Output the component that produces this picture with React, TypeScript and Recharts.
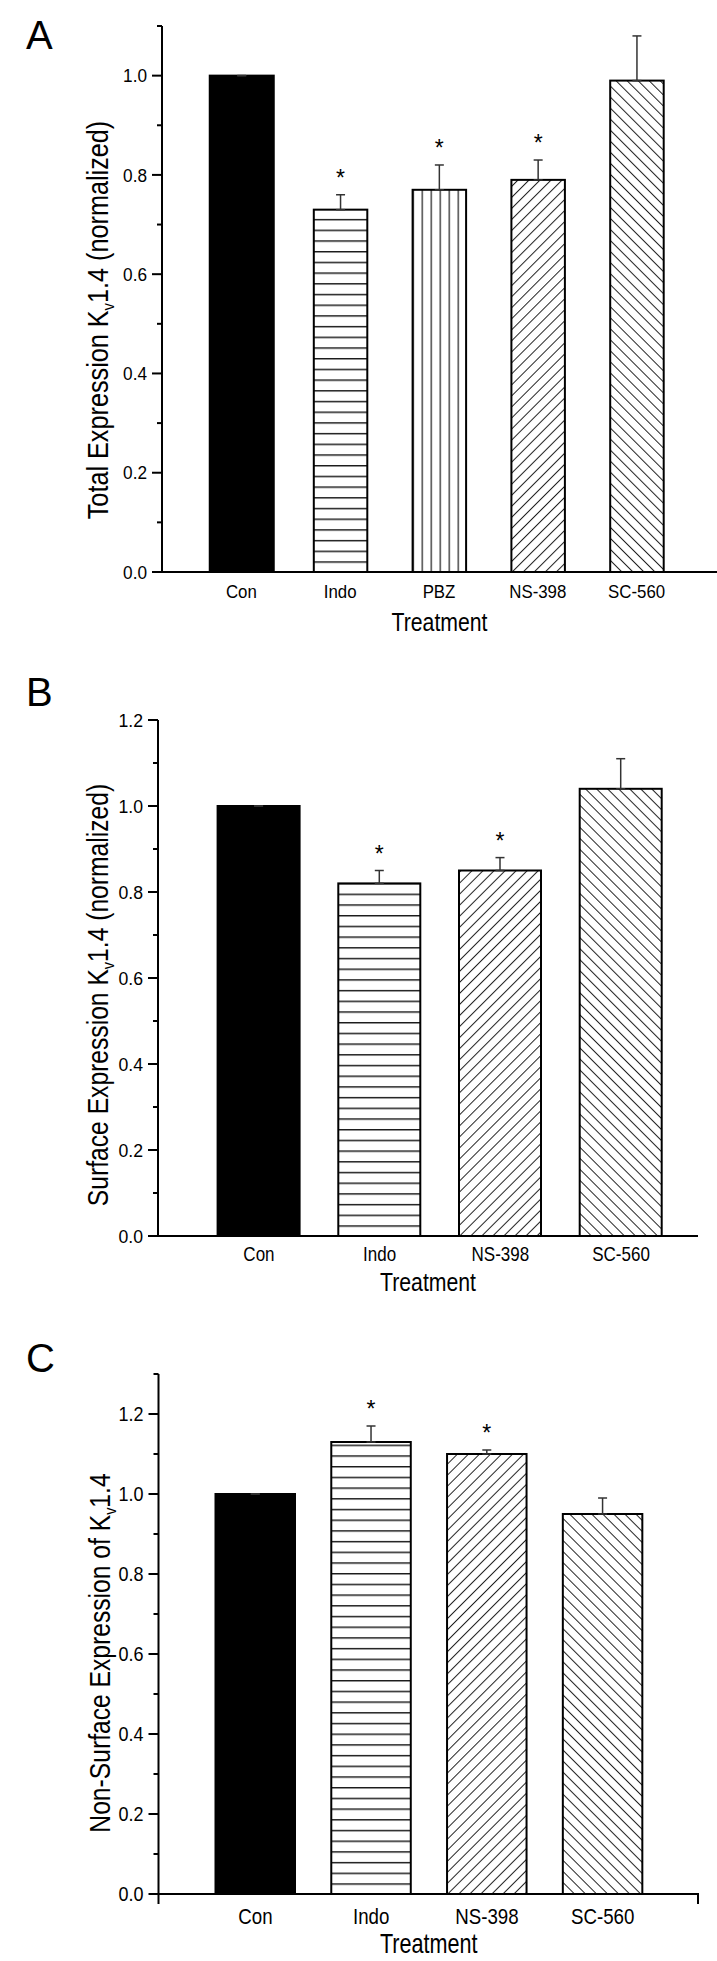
import React from 'react';
import { BarChart, Bar, XAxis, YAxis, ErrorBar } from 'recharts';

const FONT = '"Liberation Sans", Arial, Helvetica, sans-serif';

// Panel A - total expression
const catsA = ['Con', 'Indo', 'PBZ', 'NS-398', 'SC-560'];
const meanA = [1.0, 0.73, 0.77, 0.79, 0.99];
const semA = [0, 0.03, 0.05, 0.04, 0.09];
const starA = [false, true, true, true, false];
const ticksA = [0, 0.1, 0.2, 0.3, 0.4, 0.5, 0.6, 0.7, 0.8, 0.9, 1.0, 1.1];

// Panel B - surface expression
const catsB = ['Con', 'Indo', 'NS-398', 'SC-560'];
const meanB = [1.0, 0.82, 0.85, 1.04];
const semB = [0, 0.03, 0.03, 0.07];
const starB = [false, true, true, false];
const ticksB = [0, 0.1, 0.2, 0.3, 0.4, 0.5, 0.6, 0.7, 0.8, 0.9, 1.0, 1.1, 1.2];

// Panel C - non-surface expression
const catsC = ['Con', 'Indo', 'NS-398', 'SC-560'];
const meanC = [1.0, 1.13, 1.1, 0.95];
const semC = [0, 0.04, 0.01, 0.04];
const starC = [false, true, true, false];
const ticksC = [0, 0.1, 0.2, 0.3, 0.4, 0.5, 0.6, 0.7, 0.8, 0.9, 1.0, 1.1, 1.2, 1.3];

// fill style per treatment
const fillKind: Record<string, string> = {
  Con: 'solid',
  Indo: 'hlines',
  PBZ: 'vlines',
  'NS-398': 'fdiag',
  'SC-560': 'bdiag',
};

const buildRows = (cats: string[], mean: number[], sem: number[], star: boolean[]) =>
  cats.map((cat, i) => ({ cat, mean: mean[i], sem: sem[i], err: [0, sem[i]], star: star[i] }));

function PatternBar(props: any) {
  const { x, y, width, height, payload, index, pid, conWidth } = props;
  if (!height || height <= 0) return null;
  const kind = fillKind[payload.cat];
  const w = kind === 'solid' && conWidth ? conWidth : width;
  const bx = x + width / 2 - w / 2;
  const bottom = y + height;
  const id = `pat-${pid}-${index}`;
  let pattern: React.ReactNode = null;
  if (kind === 'hlines') {
    pattern = (
      <pattern id={id} patternUnits="userSpaceOnUse" x={bx} y={bottom} width={w} height={10.7}>
        <line x1={0} x2={w} y1={0.8} y2={0.8} stroke="#1a1a1a" strokeWidth={1.5} />
      </pattern>
    );
  } else if (kind === 'vlines') {
    pattern = (
      <pattern id={id} patternUnits="userSpaceOnUse" x={bx} y={0} width={9} height={10}>
        <line x1={0.6} x2={0.6} y1={0} y2={10} stroke="#1a1a1a" strokeWidth={1.2} />
      </pattern>
    );
  } else if (kind === 'fdiag' || kind === 'bdiag') {
    const rot = kind === 'fdiag' ? 45 : -45;
    pattern = (
      <pattern
        id={id}
        patternUnits="userSpaceOnUse"
        width={7.8}
        height={10}
        patternTransform={`translate(${bx},${bottom}) rotate(${rot})`}
      >
        <line x1={0.5} x2={0.5} y1={0} y2={10} stroke="#222" strokeWidth={1} />
      </pattern>
    );
  }
  const starY = y - (payload.sem / payload.mean) * height - 9;
  return (
    <g>
      {pattern && <defs>{pattern}</defs>}
      <rect
        x={bx}
        y={y}
        width={w}
        height={height}
        fill={kind === 'solid' ? '#000' : pattern ? `url(#${id})` : '#fff'}
        stroke="#000"
        strokeWidth={2}
      />
      {payload.star && (
        <text x={x + width / 2} y={starY} textAnchor="middle" fontSize={23} fontFamily={FONT} fill="#000">
          *
        </text>
      )}
    </g>
  );
}

const makeYTick = (fs: number, sx: number) => (props: any) => {
  const { x, y, payload } = props;
  const v = payload.value;
  const major = Math.round(v * 10) % 2 === 0;
  return (
    <g>
      <line x1={x - (major ? 10 : 5)} x2={x} y1={y} y2={y} stroke="#000" strokeWidth={2} />
      {major && (
        <text
          transform={`translate(${x - 15},${y + fs * 0.36}) scale(${sx},1)`}
          textAnchor="end"
          fontSize={fs}
          fontFamily={FONT}
          fill="#000"
        >
          {v.toFixed(1)}
        </text>
      )}
    </g>
  );
};

const makeXTick = (fs: number, sx: number, dy: number) => (props: any) => {
  const { x, y, payload } = props;
  return (
    <text
      transform={`translate(${x},${y + dy}) scale(${sx},1)`}
      textAnchor="middle"
      fontSize={fs}
      fontFamily={FONT}
      fill="#000"
    >
      {payload.value}
    </text>
  );
};

interface PanelProps {
  pid: string;
  rows: any[];
  ticks: number[];
  top: number;
  height: number;
  plotLeft: number;
  plotTop: number;
  plotBottom: number;
  plotRight: number;
  padL: number;
  padR: number;
  barSize: number;
  conWidth?: number;
  yTickFs: number;
  yTickSx: number;
  xTickFs: number;
  xTickSx: number;
  xTickDy: number;
  xLabelFs: number;
  xLabelSx: number;
  xLabelY: number;
  yLabelPre: string;
  yLabelPost: string;
  yLabelX: number;
  yLabelCy: number;
  yLabelSx: number;
  letterY: number;
  endTicks?: boolean;
}

function Panel(p: PanelProps) {
  const W = 717;
  const yAxisW = 60;
  const xAxisH = 40;
  const mTop = p.plotTop - p.top;
  const mBottom = p.height - (p.plotBottom - p.top) - xAxisH;
  const mLeft = p.plotLeft - yAxisW;
  const mRight = W - p.plotRight;
  const domainMax = p.ticks[p.ticks.length - 1];
  const cx = (p.plotLeft + p.plotRight) / 2;
  return (
    <div style={{ position: 'absolute', left: 0, top: p.top, width: W, height: p.height }}>
      <BarChart
        width={W}
        height={p.height}
        data={p.rows}
        margin={{ top: mTop, right: mRight, bottom: mBottom, left: mLeft }}
      >
        <XAxis
          dataKey="cat"
          height={xAxisH}
          padding={{ left: p.padL, right: p.padR }}
          tickLine={false}
          tickSize={0}
          tickMargin={0}
          interval={0}
          axisLine={{ stroke: '#000', strokeWidth: 2 }}
          tick={makeXTick(p.xTickFs, p.xTickSx, p.xTickDy)}
        />
        <YAxis
          type="number"
          width={yAxisW}
          domain={[0, domainMax]}
          ticks={p.ticks}
          interval={0}
          tickLine={false}
          tickSize={0}
          tickMargin={0}
          axisLine={{ stroke: '#000', strokeWidth: 2 }}
          tick={makeYTick(p.yTickFs, p.yTickSx)}
        />
        <Bar
          dataKey="mean"
          barSize={p.barSize}
          isAnimationActive={false}
          shape={(s: any) => <PatternBar {...s} pid={p.pid} conWidth={p.conWidth} />}
        >
          <ErrorBar dataKey="err" width={4.5} stroke="#333" strokeWidth={1.5} direction="y" isAnimationActive={false} />
        </Bar>
      </BarChart>
      <svg
        width={W}
        height={p.height}
        style={{ position: 'absolute', left: 0, top: 0, pointerEvents: 'none' }}
      >
        <g transform={`translate(0,${-p.top})`}>
          <text x={26} y={p.letterY} fontSize={40} fontFamily={FONT} fill="#000">
            {p.pid}
          </text>
          <text
            transform={`translate(${p.yLabelX},${p.yLabelCy}) rotate(-90) scale(${p.yLabelSx},1)`}
            textAnchor="middle"
            fontSize={29}
            fontFamily={FONT}
            fill="#000"
          >
            {p.yLabelPre}
            <tspan fontSize={17} dy={6}>v</tspan>
            <tspan dy={-6}>{p.yLabelPost}</tspan>
          </text>
          <text
            transform={`translate(${cx},${p.xLabelY}) scale(${p.xLabelSx},1)`}
            textAnchor="middle"
            fontSize={p.xLabelFs}
            fontFamily={FONT}
            fill="#000"
          >
            Treatment
          </text>
          {p.endTicks && (
            <g stroke="#000" strokeWidth={2}>
              <line x1={p.plotLeft} x2={p.plotLeft} y1={p.plotBottom} y2={p.plotBottom + 10} />
              <line x1={p.plotRight - 1} x2={p.plotRight - 1} y1={p.plotBottom} y2={p.plotBottom + 10} />
            </g>
          )}
        </g>
      </svg>
    </div>
  );
}

export default function App() {
  return (
    <div style={{ position: 'absolute', left: 0, top: 0, width: 717, height: 1961, background: '#fff' }}>
      <Panel
        pid="A"
        rows={buildRows(catsA, meanA, semA, starA)}
        ticks={ticksA}
        top={0}
        height={660}
        plotLeft={162}
        plotTop={26}
        plotBottom={572}
        plotRight={717}
        padL={30}
        padR={31}
        barSize={53.5}
        conWidth={64}
        yTickFs={18.5}
        yTickSx={0.93}
        xTickFs={18.5}
        xTickSx={0.91}
        xTickDy={26}
        xLabelFs={25}
        xLabelSx={0.85}
        xLabelY={631}
        yLabelPre="Total Expression K"
        yLabelPost="1.4 (normalized)"
        yLabelX={108}
        yLabelCy={320}
        yLabelSx={0.87}
        letterY={49}
      />
      <Panel
        pid="B"
        rows={buildRows(catsB, meanB, semB, starB)}
        ticks={ticksB}
        top={660}
        height={645}
        plotLeft={158}
        plotTop={720}
        plotBottom={1236}
        plotRight={698}
        padL={40.6}
        padR={16.6}
        barSize={82}
        yTickFs={19}
        yTickSx={0.93}
        xTickFs={20}
        xTickSx={0.85}
        xTickDy={25}
        xLabelFs={25}
        xLabelSx={0.85}
        xLabelY={1291}
        yLabelPre="Surface Expression K"
        yLabelPost="1.4 (normalized)"
        yLabelX={108}
        yLabelCy={995}
        yLabelSx={0.85}
        letterY={706}
      />
      <Panel
        pid="C"
        rows={buildRows(catsC, meanC, semC, starC)}
        ticks={ticksC}
        top={1305}
        height={656}
        plotLeft={158.5}
        plotTop={1374}
        plotBottom={1894}
        plotRight={699}
        padL={39}
        padR={38.4}
        barSize={79.5}
        yTickFs={20}
        yTickSx={0.9}
        xTickFs={22}
        xTickSx={0.85}
        xTickDy={30}
        xLabelFs={27}
        xLabelSx={0.8}
        xLabelY={1953}
        yLabelPre="Non-Surface Expression of K"
        yLabelPost="1.4"
        yLabelX={110}
        yLabelCy={1653}
        yLabelSx={0.85}
        letterY={1372}
        endTicks
      />
    </div>
  );
}
